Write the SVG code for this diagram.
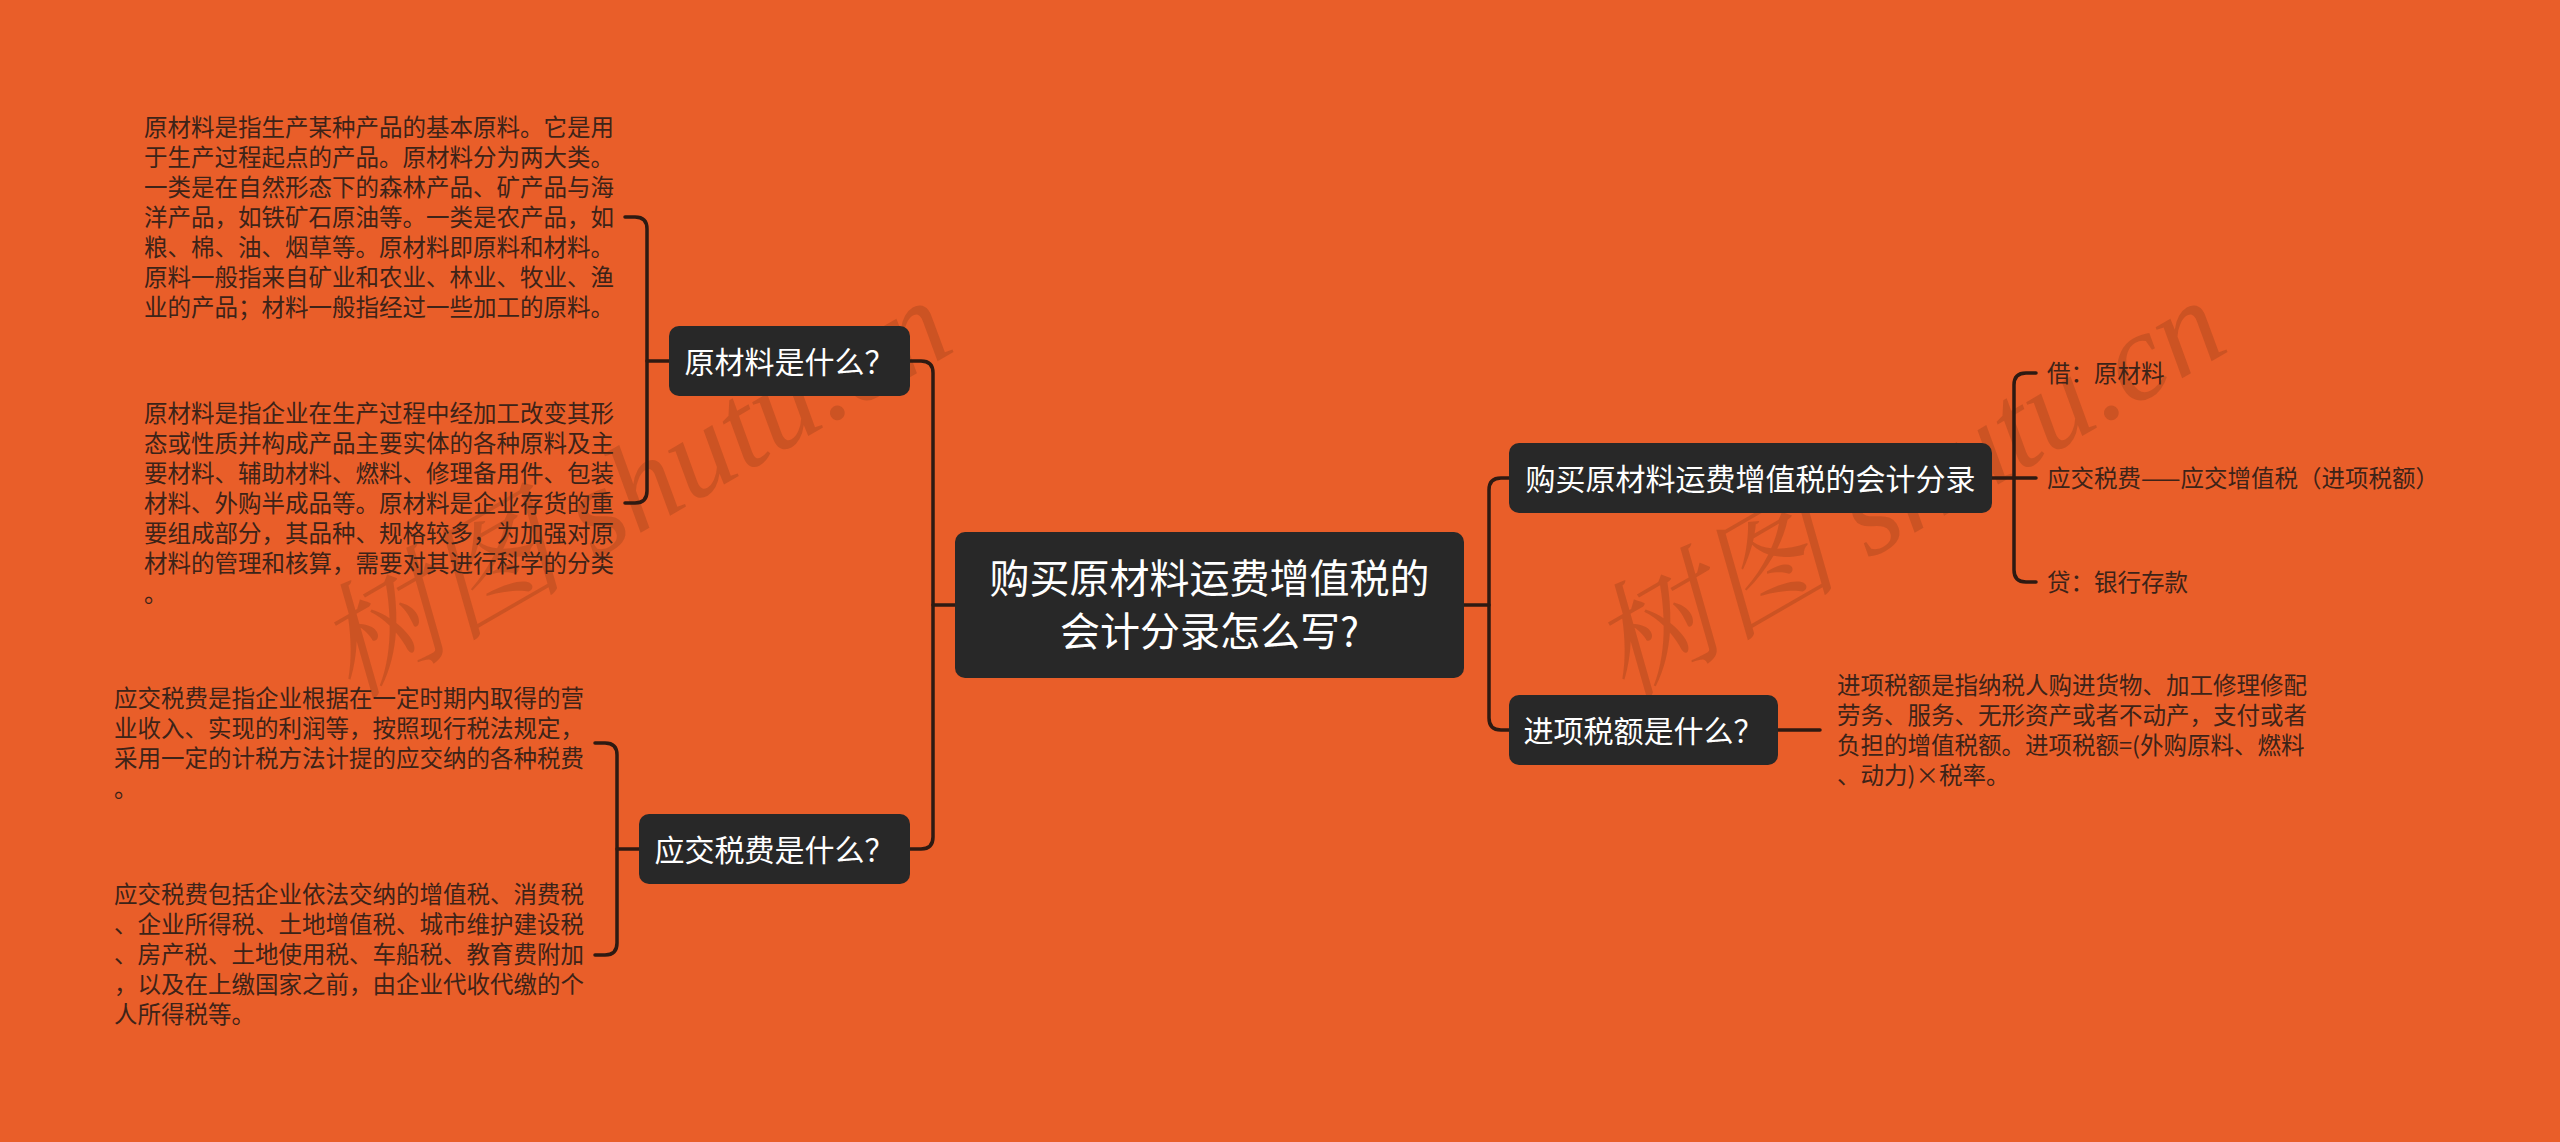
<svg xmlns="http://www.w3.org/2000/svg" width="2560" height="1142" viewBox="0 0 2560 1142">
<style>
.bg{fill:#e95e29}
.box{fill:#282828}
.bt{fill:#ffffff;font-family:"Noto Sans CJK SC","Noto Sans",sans-serif;text-anchor:middle}
.pt{fill:#3d2318;font-family:"Noto Sans CJK SC","Noto Sans",sans-serif;font-size:23.5px}
.ln{fill:none;stroke:#2e1a12;stroke-width:3.5;stroke-linecap:round}
.wm{fill:#5a2a10;fill-opacity:0.2;font-family:"Liberation Serif","Noto Serif CJK SC","Noto Sans CJK SC",serif;font-size:125px;font-style:italic}
</style>
<rect class="bg" x="0" y="0" width="2560" height="1142"/>
<g id="watermarks">
<text class="wm" transform="translate(351,700) rotate(-30)">树图 shutu.cn</text>
<text class="wm" transform="translate(1625,700) rotate(-30)">树图 shutu.cn</text>
</g>
<g id="connectors">
<path class="ln" d="M955,605 H933"/>
<path class="ln" d="M910,361 H921 Q933,361 933,373 V837 Q933,849 921,849 H910"/>
<path class="ln" d="M625,217 H635 Q647,217 647,229 V491 Q647,503 635,503 H625"/>
<path class="ln" d="M647,361 H669"/>
<path class="ln" d="M595,743 H605 Q617,743 617,755 V943 Q617,955 605,955 H595"/>
<path class="ln" d="M617,849 H639"/>
<path class="ln" d="M1464,605 H1489"/>
<path class="ln" d="M1509,478 H1501 Q1489,478 1489,490 V718 Q1489,730 1501,730 H1509"/>
<path class="ln" d="M1992,478 H2036"/>
<path class="ln" d="M2036,373 H2026 Q2014,373 2014,385 V570 Q2014,582 2026,582 H2036"/>
<path class="ln" d="M1778,730 H1820"/>
</g>
<g id="root">
<rect class="box" x="955" y="532" width="509" height="146" rx="10"/>
<text class="bt" font-size="40" x="1209.5" y="593">购买原材料运费增值税的</text>
<text class="bt" font-size="40" x="1209.5" y="646">会计分录怎么写?</text>
</g>
<g id="n-yuancailiao">
<rect class="box" x="669" y="326" width="241" height="70" rx="10"/>
<text class="bt" font-size="30" x="789.5" y="372.5">原材料是什么？</text>
</g>
<g id="n-yingjiao">
<rect class="box" x="639" y="814" width="271" height="70" rx="10"/>
<text class="bt" font-size="30" x="774.5" y="860.5">应交税费是什么？</text>
</g>
<g id="n-goumai">
<rect class="box" x="1509" y="443" width="483" height="70" rx="10"/>
<text class="bt" font-size="30" x="1750.5" y="489.5">购买原材料运费增值税的会计分录</text>
</g>
<g id="n-jinxiang">
<rect class="box" x="1509" y="695" width="269" height="70" rx="10"/>
<text class="bt" font-size="30" x="1643.5" y="741.5">进项税额是什么？</text>
</g>
<g id="t-a">
<text class="pt" x="144" y="136">原材料是指生产某种产品的基本原料。它是用</text>
<text class="pt" x="144" y="166">于生产过程起点的产品。原材料分为两大类。</text>
<text class="pt" x="144" y="196">一类是在自然形态下的森林产品、矿产品与海</text>
<text class="pt" x="144" y="226">洋产品，如铁矿石原油等。一类是农产品，如</text>
<text class="pt" x="144" y="256">粮、棉、油、烟草等。原材料即原料和材料。</text>
<text class="pt" x="144" y="286">原料一般指来自矿业和农业、林业、牧业、渔</text>
<text class="pt" x="144" y="316">业的产品；材料一般指经过一些加工的原料。</text>
</g>
<g id="t-b">
<text class="pt" x="144" y="422">原材料是指企业在生产过程中经加工改变其形</text>
<text class="pt" x="144" y="452">态或性质并构成产品主要实体的各种原料及主</text>
<text class="pt" x="144" y="482">要材料、辅助材料、燃料、修理备用件、包装</text>
<text class="pt" x="144" y="512">材料、外购半成品等。原材料是企业存货的重</text>
<text class="pt" x="144" y="542">要组成部分，其品种、规格较多，为加强对原</text>
<text class="pt" x="144" y="572">材料的管理和核算，需要对其进行科学的分类</text>
<text class="pt" x="144" y="602">。</text>
</g>
<g id="t-c">
<text class="pt" x="114" y="707">应交税费是指企业根据在一定时期内取得的营</text>
<text class="pt" x="114" y="737">业收入、实现的利润等，按照现行税法规定，</text>
<text class="pt" x="114" y="767">采用一定的计税方法计提的应交纳的各种税费</text>
<text class="pt" x="114" y="797">。</text>
</g>
<g id="t-d">
<text class="pt" x="114" y="903">应交税费包括企业依法交纳的增值税、消费税</text>
<text class="pt" x="114" y="933">、企业所得税、土地增值税、城市维护建设税</text>
<text class="pt" x="114" y="963">、房产税、土地使用税、车船税、教育费附加</text>
<text class="pt" x="114" y="993">，以及在上缴国家之前，由企业代收代缴的个</text>
<text class="pt" x="114" y="1023">人所得税等。</text>
</g>
<g id="t-e">
<text class="pt" x="1837" y="694">进项税额是指纳税人购进货物、加工修理修配</text>
<text class="pt" x="1837" y="724">劳务、服务、无形资产或者不动产，支付或者</text>
<text class="pt" x="1837" y="754">负担的增值税额。进项税额=(外购原料、燃料</text>
<text class="pt" x="1837" y="784">、动力)×税率。</text>
</g>
<g id="t-jie">
<text class="pt" x="2047" y="382">借：原材料</text>
</g>
<g id="t-yingjiao2">
<text class="pt" x="2047" y="487">应交税费——应交增值税（进项税额）</text>
</g>
<g id="t-dai">
<text class="pt" x="2047" y="591">贷：银行存款</text>
</g>
</svg>
